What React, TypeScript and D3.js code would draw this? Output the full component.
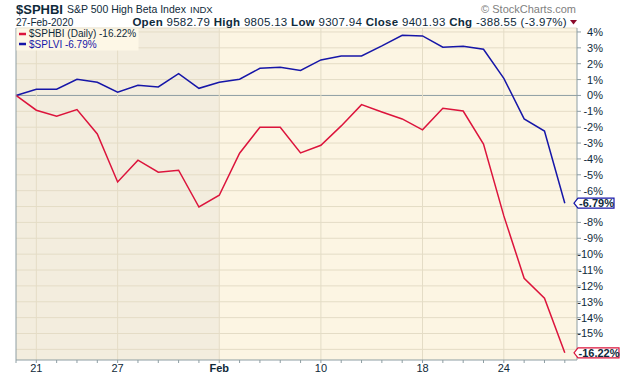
import React from "react";
import * as d3 from "d3";

const dates = ["Jan 17","Jan 21","Jan 22","Jan 23","Jan 24","Jan 27","Jan 28","Jan 29","Jan 30","Jan 31","Feb 3","Feb 4","Feb 5","Feb 6","Feb 7","Feb 10","Feb 11","Feb 12","Feb 13","Feb 14","Feb 18","Feb 19","Feb 20","Feb 21","Feb 24","Feb 25","Feb 26","Feb 27"];
const sphbi = [0,-0.93,-1.31,-0.89,-2.43,-5.45,-4.08,-4.84,-4.71,-7.03,-6.29,-3.64,-2.0,-2.0,-3.62,-3.14,-1.92,-0.58,-1.04,-1.48,-2.17,-0.81,-0.98,-3.06,-7.59,-11.52,-12.78,-16.22];
const splvi = [0,0.39,0.39,1.02,0.83,0.2,0.64,0.54,1.37,0.45,0.83,1.02,1.71,1.78,1.57,2.24,2.49,2.49,3.12,3.79,3.75,3.04,3.1,2.91,1.08,-1.48,-2.24,-6.79];
const xTickLabels = [{ i: 1, t: "21" }, { i: 5, t: "27" }, { i: 10, t: "Feb" }, { i: 15, t: "10" }, { i: 20, t: "18" }, { i: 24, t: "24" }];
const yTicks = [4,3,2,1,0,-1,-2,-3,-4,-5,-6,-7,-8,-9,-10,-11,-12,-13,-14,-15,-16];

const RED = "#DC143C";
const BLUE = "#1616A8";
const TXT = "#0F2A3A";
const AX = "#8E9EA3";
const GRID = "#E4DCC6";
const FONT = "'Liberation Sans', Arial, sans-serif";

export default function App() {
  const L = 16, R = 577, T = 28, B = 360;
  const x = d3.scaleLinear().domain([0, 27.6]).range([L, R]);
  const y = d3.scaleLinear().domain([-16.67, 4.25]).range([B, T]);
  const line = d3.line<number>().x((_, i) => x(i)).y((d) => y(d));
  const febX = x(10);
  const lastI = dates.length - 1;
  const lastVals = [splvi[lastI], sphbi[lastI]];
  const hidden = (t: number) => lastVals.some((v) => Math.abs(y(t) - y(v)) < 9);

  const valueLabel = (v: number, color: string) => {
    const cy = y(v);
    const ax = 574, bx = 578, ex = v < -10 ? 619 : 614;
    const pts = `${ax},${cy} ${bx},${cy - 5} ${ex},${cy - 5} ${ex},${cy + 5} ${bx},${cy + 5}`;
    return (
      <g>
        <polygon points={pts} fill="#fff" stroke={color} strokeWidth={1.2} />
        <text x={(bx + ex) / 2 + 0.5} y={cy + 4} textAnchor="middle" fontSize={11} fontWeight="bold" fill={TXT}>
          {v.toFixed(2)}%
        </text>
      </g>
    );
  };

  return (
    <svg width={620} height={376} style={{ position: "absolute", left: 0, top: 0, background: "#fff" }} fontFamily={FONT}>
      <rect x={L} y={T} width={R - L} height={B - T} fill="#FCF5E3" />
      <rect x={L} y={T} width={febX - L} height={B - T} fill="#F3EDDE" />
      {yTicks.map((t) => (
        <line key={"g" + t} x1={L} x2={R} y1={y(t)} y2={y(t)} stroke={t === 0 ? AX : GRID} strokeWidth={1} />
      ))}
      {xTickLabels.map((d) => (
        <line key={"vg" + d.i} x1={x(d.i)} x2={x(d.i)} y1={T} y2={B} stroke={GRID} strokeWidth={1} />
      ))}
      <line x1={L} x2={R} y1={T} y2={T} stroke={GRID} />
      <path d={line(splvi) || ""} fill="none" stroke={BLUE} strokeWidth={1.5} />
      <path d={line(sphbi) || ""} fill="none" stroke={RED} strokeWidth={1.5} />
      <line x1={L} x2={L} y1={T} y2={B} stroke={AX} />
      <line x1={R} x2={R} y1={T} y2={B} stroke={AX} />
      <line x1={L} x2={R} y1={B} y2={B} stroke={AX} />
      {dates.map((_, i) => (
        <line key={"xt" + i} x1={x(i)} x2={x(i)} y1={B} y2={B + 3} stroke={AX} />
      ))}
      {xTickLabels.map((d) => (
        <text key={"xl" + d.i} x={x(d.i)} y={372} textAnchor="middle" fontSize={11} fontWeight={d.t === "Feb" ? "bold" : "normal"} fill={TXT}>
          {d.t}
        </text>
      ))}
      {yTicks.map((t) => (
        <g key={"yt" + t}>
          <line x1={R} x2={R + 4} y1={y(t)} y2={y(t)} stroke={AX} />
          {!hidden(t) && (
            <text x={603} y={y(t) + 4} textAnchor="end" fontSize={11} fill={TXT}>
              {t}%
            </text>
          )}
        </g>
      ))}
      {valueLabel(splvi[lastI], BLUE)}
      {valueLabel(sphbi[lastI], RED)}
      <rect x={L + 0.5} y={T + 0.5} width={122} height={22} fill="#FDF7E6" />
      <line x1={19} x2={26} y1={34} y2={34} stroke={RED} strokeWidth={2.5} />
      <text x={29} y={36.8} fontSize={10} fill={TXT}>$SPHBI (Daily) -16.22%</text>
      <line x1={19} x2={26} y1={44} y2={44} stroke={BLUE} strokeWidth={2.5} />
      <text x={29} y={48} fontSize={10} fill={BLUE}>$SPLVI -6.79%</text>
      <text x={16} y={13.5} fontSize={13} fontWeight="bold" fill={TXT}>$SPHBI</text>
      <text x={67} y={13} fontSize={10.5} fill={TXT}>S&amp;P 500 High Beta Index</text>
      <text x={190} y={13} fontSize={9.5} fill={TXT}>INDX</text>
      <text x={16} y={25.5} fontSize={10} fill={TXT}>27-Feb-2020</text>
      <text x={567} y={25.5} textAnchor="end" fontSize={11.5} letterSpacing={0.3} fill={TXT}>
        <tspan fontWeight="bold">Open</tspan> 9582.79  <tspan fontWeight="bold">High</tspan> 9805.13  <tspan fontWeight="bold">Low</tspan> 9307.94  <tspan fontWeight="bold">Close</tspan> 9401.93  <tspan fontWeight="bold">Chg</tspan> -388.55 (-3.97%)
      </text>
      <polygon points="570,20 577,20 573.5,24.5" fill="#8B0A2A" />
      <text x={576} y={13} textAnchor="end" fontSize={11} fill="#808080">© StockCharts.com</text>
    </svg>
  );
}
